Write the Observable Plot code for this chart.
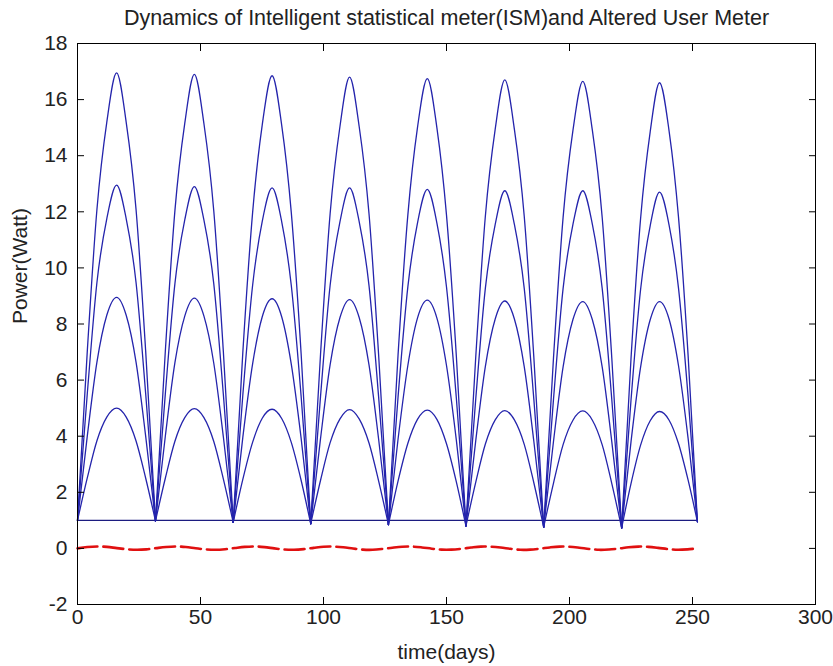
<!DOCTYPE html>
<html>
<head>
<meta charset="utf-8">
<script src="https://cdn.jsdelivr.net/npm/d3@7"></script>
<script src="https://cdn.jsdelivr.net/npm/@observablehq/plot@0.6"></script>
<style>
  html, body { margin: 0; padding: 0; background: #fff; }
  #chart svg { display: block; }
</style>
</head>
<body>
<div id="chart"></div>
<script>
// ---- data ----
const titleText = "Dynamics of Intelligent statistical meter(ISM)and Altered User Meter";
const xLabel = "time(days)";
const yLabel = "Power(Watt)";
const xTicks = [0, 50, 100, 150, 200, 250, 300];
const yTicks = [-2, 0, 2, 4, 6, 8, 10, 12, 14, 16, 18];

// sample days along the eight arches (arch boundaries at the cusps)
const xDays = [0, 4.0, 7.9, 11.9, 15.9, 19.8, 23.8, 27.7, 31.7,
  35.7, 39.6, 43.6, 47.5, 51.4, 55.4, 59.3, 63.3,
  67.2, 71.2, 75.1, 79.1, 83.0, 86.9, 90.9, 94.8,
  98.8, 102.7, 106.7, 110.6, 114.5, 118.5, 122.4, 126.4,
  130.3, 134.3, 138.2, 142.2, 146.1, 150.0, 154.0, 157.9,
  161.9, 165.8, 169.8, 173.7, 177.6, 181.6, 185.5, 189.5,
  193.5, 197.4, 201.4, 205.4, 209.3, 213.3, 217.2, 221.2,
  225.0, 228.9, 232.8, 236.6, 240.5, 244.3, 248.2, 252];

const curve17 = [1, 7.06, 12.08, 15.19, 16.95, 15.19, 12.08, 7.05, 0.98,
  7.03, 12.04, 15.15, 16.9, 15.14, 12.03, 7.0, 0.93,
  6.98, 11.99, 15.10, 16.85, 15.09, 11.98, 6.95, 0.88,
  6.93, 11.94, 15.05, 16.8, 15.04, 11.93, 6.91, 0.85,
  6.89, 11.90, 15.00, 16.75, 14.99, 11.88, 6.86, 0.8,
  6.84, 11.85, 14.95, 16.7, 14.94, 11.84, 6.82, 0.76,
  6.80, 11.80, 14.90, 16.65, 14.90, 11.79, 6.78, 0.73,
  6.76, 11.76, 14.85, 16.6, 14.87, 11.82, 6.90, 0.95];

const curve13 = [1, 5.54, 9.48, 11.75, 12.95, 11.75, 9.48, 5.53, 0.98,
  5.51, 9.44, 11.71, 12.9, 11.70, 9.43, 5.48, 0.93,
  5.46, 9.39, 11.66, 12.85, 11.65, 9.38, 5.43, 0.88,
  5.43, 9.38, 11.65, 12.85, 11.65, 9.37, 5.41, 0.85,
  5.39, 9.33, 11.60, 12.8, 11.60, 9.32, 5.36, 0.8,
  5.34, 9.28, 11.55, 12.75, 11.55, 9.27, 5.32, 0.76,
  5.32, 9.27, 11.55, 12.75, 11.55, 9.26, 5.30, 0.73,
  5.28, 9.23, 11.50, 12.7, 11.52, 9.29, 5.42, 0.95];

const curve9 = [1, 4.02, 6.64, 8.31, 8.95, 8.31, 6.64, 4.01, 0.98,
  4.0, 6.62, 8.28, 8.92, 8.28, 6.60, 3.97, 0.93,
  3.96, 6.59, 8.26, 8.9, 8.26, 6.57, 3.93, 0.88,
  3.92, 6.55, 8.23, 8.87, 8.23, 6.54, 3.90, 0.85,
  3.89, 6.53, 8.21, 8.85, 8.21, 6.52, 3.86, 0.8,
  3.85, 6.49, 8.18, 8.82, 8.18, 6.48, 3.82, 0.76,
  3.82, 6.47, 8.16, 8.8, 8.15, 6.46, 3.80, 0.73,
  3.80, 6.46, 8.15, 8.8, 8.17, 6.52, 3.93, 0.95];

const curve5 = [1, 2.52, 3.84, 4.68, 5.0, 4.68, 3.83, 2.51, 0.98,
  2.50, 3.82, 4.66, 4.98, 4.66, 3.81, 2.47, 0.93,
  2.46, 3.79, 4.64, 4.96, 4.63, 3.78, 2.43, 0.88,
  2.43, 3.77, 4.62, 4.95, 4.62, 3.76, 2.41, 0.85,
  2.40, 3.75, 4.60, 4.93, 4.60, 3.73, 2.37, 0.8,
  2.36, 3.72, 4.58, 4.91, 4.58, 3.71, 2.34, 0.76,
  2.33, 3.70, 4.57, 4.9, 4.57, 3.69, 2.31, 0.73,
  2.31, 3.68, 4.55, 4.88, 4.57, 3.74, 2.44, 0.95];

// horizontal reference line (ISM baseline)
const baseX = [0, 252];
const baseY = [1, 1];

// red dashed altered-user-meter line
const redX = [0, 4, 8, 12, 16, 20, 24, 28, 32, 36, 40, 44, 48, 52, 56, 60,
  64, 68, 72, 76, 80, 84, 88, 92, 96, 100, 104, 108, 112, 116, 120, 124,
  128, 132, 136, 140, 144, 148, 152, 156, 160, 164, 168, 172, 176, 180, 184, 188,
  192, 196, 200, 204, 208, 212, 216, 220, 224, 228, 232, 236, 240, 244, 248, 252];
const redY = [0.00, 0.05, 0.07, 0.055, 0.01, -0.03, -0.05, -0.035,
  0.01, 0.05, 0.07, 0.05, 0.005, -0.035, -0.05, -0.03,
  0.015, 0.055, 0.07, 0.045, 0.0, -0.04, -0.05, -0.025,
  0.02, 0.06, 0.065, 0.04, -0.005, -0.045, -0.05, -0.02,
  0.025, 0.06, 0.065, 0.035, -0.01, -0.045, -0.045, -0.015,
  0.03, 0.065, 0.06, 0.03, -0.015, -0.05, -0.045, -0.01,
  0.035, 0.065, 0.06, 0.025, -0.02, -0.05, -0.04, -0.005,
  0.04, 0.065, 0.055, 0.02, -0.025, -0.05, -0.035, 0.0];

// ---- build tables ----
const series = [["c17", curve17], ["c13", curve13], ["c9", curve9], ["c5", curve5]];
const archRows = [];
for (const [name, ys] of series) {
  for (let k = 0; k < 8; k++) {
    for (let j = 0; j <= 8; j++) {
      const i = 8 * k + j;
      archRows.push({x: xDays[i], y: ys[i], z: name + "-" + k});
    }
  }
}
const baseRows = baseX.map((x, i) => ({x, y: baseY[i]}));
const redRows = redX.map((x, i) => ({x, y: redY[i]}));

const font = "'Liberation Sans', Arial, sans-serif";
const txt = "#222";

const chart = Plot.plot({
  width: 833,
  height: 666,
  marginLeft: 77,
  marginRight: 18,
  marginTop: 43,
  marginBottom: 62,
  style: {fontFamily: font, fontSize: "21px", background: "#fff", color: txt},
  x: {domain: [0, 300]},
  y: {domain: [-2, 18]},
  marks: [
    Plot.line(redRows, {x: "x", y: "y", stroke: "#e01010", strokeWidth: 2.6, strokeDasharray: "20,6", curve: "catmull-rom"}),
    Plot.line(baseRows, {x: "x", y: "y", stroke: "#1c1c80", strokeWidth: 1.2}),
    Plot.line(archRows, {x: "x", y: "y", z: "z", stroke: "#2424ac", strokeWidth: 1.3, curve: "monotone-x"}),
    Plot.frame({stroke: "#000", strokeWidth: 1}),
    // inward ticks on all four sides
    Plot.axisX(xTicks, {anchor: "bottom", tickSize: -7, tickFormat: () => "", label: null, stroke: "#000"}),
    Plot.axisX(xTicks, {anchor: "top", tickSize: -7, tickFormat: () => "", label: null, stroke: "#000"}),
    Plot.axisY(yTicks, {anchor: "left", tickSize: -7, tickFormat: () => "", label: null, stroke: "#000"}),
    Plot.axisY(yTicks, {anchor: "right", tickSize: -7, tickFormat: () => "", label: null, stroke: "#000"}),
    // tick labels
    Plot.axisX(xTicks, {anchor: "bottom", tickSize: 0, tickPadding: 5, label: null, fontSize: 21, fill: txt, tickFormat: d => String(d)}),
    Plot.axisY(yTicks, {anchor: "left", tickSize: 0, tickPadding: 10, label: null, fontSize: 21, fill: txt, tickFormat: d => String(d)}),
    // titles
    Plot.text([xLabel], {frameAnchor: "bottom", lineAnchor: "middle", dy: 48, fontSize: 21, fill: txt}),
    Plot.text([yLabel], {frameAnchor: "left", lineAnchor: "middle", dx: -57, rotate: -90, fontSize: 21, fill: txt}),
    Plot.text([titleText], {frameAnchor: "top", lineAnchor: "middle", dy: -25, fontSize: 21.5, fill: txt})
  ]
});
document.getElementById("chart").appendChild(chart);
</script>
</body>
</html>
